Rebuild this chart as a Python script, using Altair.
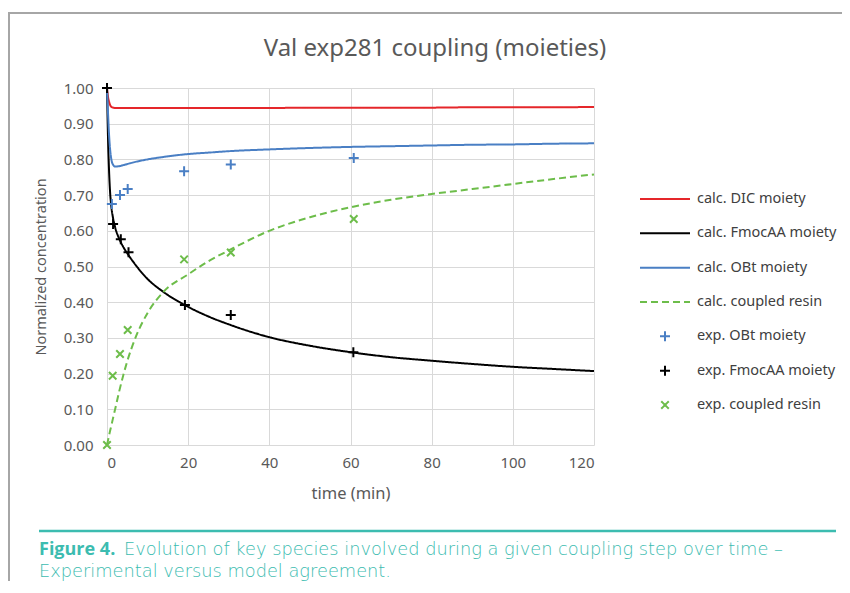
import altair as alt
import pandas as pd

# ---------------- data ----------------
t_calc = [0, 0.25, 0.5, 0.75, 1, 1.5, 2, 3, 4, 5, 7, 10, 14, 20, 25, 30, 40, 50, 60, 70, 80, 90, 100, 110, 120]
calc_dic = [1.0, 0.975, 0.962, 0.953, 0.948, 0.945, 0.944, 0.944, 0.944, 0.944, 0.944, 0.944, 0.944, 0.944, 0.944,
            0.944, 0.944, 0.945, 0.945, 0.945, 0.945, 0.946, 0.946, 0.946, 0.947]
calc_fmoc = [1.0, 0.86, 0.77, 0.71, 0.675, 0.635, 0.61, 0.578, 0.555, 0.537, 0.505, 0.465, 0.428, 0.387, 0.36,
             0.338, 0.302, 0.278, 0.26, 0.246, 0.236, 0.227, 0.219, 0.213, 0.207]
calc_obt = [1.0, 0.93, 0.87, 0.83, 0.805, 0.785, 0.78, 0.781, 0.784, 0.787, 0.793, 0.8, 0.807, 0.815, 0.819,
            0.823, 0.828, 0.832, 0.835, 0.837, 0.839, 0.841, 0.842, 0.844, 0.845]
calc_resin = [0.0, 0.013, 0.026, 0.039, 0.051, 0.076, 0.1, 0.15, 0.195, 0.235, 0.3, 0.37, 0.43, 0.478, 0.515,
              0.545, 0.600, 0.638, 0.666, 0.687, 0.703, 0.717, 0.731, 0.745, 0.758]

t_exp_obt = [1.2, 3.2, 5.1, 19, 30.5, 60.8]
exp_obt = [0.675, 0.70, 0.717, 0.767, 0.786, 0.804]
t_exp_fmoc = [0, 1.5, 3.4, 5.3, 19.2, 30.5, 60.7]
exp_fmoc = [1.0, 0.619, 0.576, 0.54, 0.392, 0.364, 0.26]
t_exp_resin = [0, 1.4, 3.2, 5.1, 19, 30.5, 60.8]
exp_resin = [0.0, 0.194, 0.255, 0.322, 0.52, 0.539, 0.633]

series_names = ["calc. DIC moiety", "calc. FmocAA moiety", "calc. OBt moiety", "calc. coupled resin",
                "exp. OBt moiety", "exp. FmocAA moiety", "exp. coupled resin"]

title_text = "Val exp281 coupling (moieties)"
x_title = "time (min)"
y_title = "Normalized concentration"
x_ticks = [0, 20, 40, 60, 80, 100, 120]
y_ticks = [0.0, 0.1, 0.2, 0.3, 0.4, 0.5, 0.6, 0.7, 0.8, 0.9, 1.0]
caption_bold = "Figure 4."
caption_line1 = "Evolution of key species involved during a given coupling step over time \u2013"
caption_line2 = "Experimental versus model agreement."

# ---------------- tables ----------------
calc_rows = []
for name, vals in zip(series_names[:4], [calc_dic, calc_fmoc, calc_obt, calc_resin]):
    for t, v in zip(t_calc, vals):
        calc_rows.append({"t": t, "v": v, "series": name})
calc_df = pd.DataFrame(calc_rows)

exp_rows = []
for name, ts, vals in zip(series_names[4:], [t_exp_obt, t_exp_fmoc, t_exp_resin], [exp_obt, exp_fmoc, exp_resin]):
    for t, v in zip(ts, vals):
        exp_rows.append({"t": t, "v": v, "series": name})
exp_df = pd.DataFrame(exp_rows)

legend_df = pd.DataFrame({"series": series_names})

# ---------------- styles ----------------
RED = "#E5262A"
BLUE = "#4A7FC4"
GREEN = "#6DBD4A"
BLACK = "#000000"
GRAY = "#595959"
TEAL = "#3CBCB0"

colors = [RED, BLACK, BLUE, GREEN, BLUE, BLACK, GREEN]
line_shape = "M-1,0H1"
plus_shape = "M-0.2,0H0.2M0,-0.2V0.2"
x_shape = "M-0.15,-0.15L0.15,0.15M-0.15,0.15L0.15,-0.15"
shapes = [line_shape, line_shape, line_shape, line_shape, plus_shape, plus_shape, x_shape]
dashes = [[1, 0], [1, 0], [1, 0], [7, 4], [1, 0], [1, 0], [1, 0]]
widths = [2, 2, 2, 2.6, 1.7, 1.7, 1.7]

color_scale = alt.Scale(domain=series_names, range=colors)
dash_scale = alt.Scale(domain=series_names, range=dashes)
shape_scale = alt.Scale(domain=series_names, range=shapes)
width_scale = alt.Scale(domain=series_names, range=widths)

FONT = "Noto Sans"

x_scale = alt.Scale(domain=[0, 120], nice=False)
y_scale = alt.Scale(domain=[0, 1], nice=False)

lines = alt.Chart(calc_df).mark_line(interpolate="monotone").encode(
    x=alt.X("t:Q", scale=x_scale, axis=alt.Axis(values=x_ticks, title=x_title, grid=True)),
    y=alt.Y("v:Q", scale=y_scale,
            axis=alt.Axis(values=y_ticks, format=".2f", title=y_title, grid=True, labelOverlap=False)),
    color=alt.Color("series:N", scale=color_scale, legend=None),
    strokeDash=alt.StrokeDash("series:N", scale=dash_scale, legend=None),
    strokeWidth=alt.StrokeWidth("series:N", scale=width_scale, legend=None),
    detail="series:N",
)

points = alt.Chart(exp_df).mark_point(filled=False, size=2500, opacity=1).encode(
    x=alt.X("t:Q", scale=x_scale),
    y=alt.Y("v:Q", scale=y_scale, axis=None),
    color=alt.Color("series:N", scale=color_scale, legend=None),
    shape=alt.Shape("series:N", scale=shape_scale, legend=None),
    strokeWidth=alt.StrokeWidth("series:N", scale=width_scale, legend=None),
)

# ---- legend drawn from the series list ----
leg_y = alt.Y("series:N", scale=alt.Scale(type="point", domain=series_names, range=[111, 317], padding=0),
              axis=None)
leg_symbols = alt.Chart(legend_df).mark_point(filled=False, size=2500, opacity=1).encode(
    x=alt.value(558),
    y=leg_y,
    color=alt.Color("series:N", scale=color_scale, legend=None),
    shape=alt.Shape("series:N", scale=shape_scale, legend=None),
    strokeDash=alt.StrokeDash("series:N", scale=dash_scale, legend=None),
    strokeWidth=alt.value(2),
)
leg_labels = alt.Chart(legend_df).mark_text(align="left", baseline="middle", font=FONT, fontSize=14.5,
                                            color="#404040").encode(
    x=alt.value(590),
    y=leg_y,
    text="series:N",
)

one = alt.Data(values=[{}])

title_mark = alt.Chart(one).mark_text(align="center", baseline="alphabetic", font=FONT, fontSize=24,
                                      color=GRAY).encode(
    x=alt.value(328), y=alt.value(-32), text=alt.value(title_text))

frame_top = alt.Chart(one).mark_rule(color="#A6A6A6", strokeWidth=2).encode(
    x=alt.value(-99), x2=alt.value(760), y=alt.value(-75))
frame_left = alt.Chart(one).mark_rule(color="#A6A6A6", strokeWidth=2).encode(
    x=alt.value(-98), y=alt.value(-76), y2=alt.value(520))
teal_rule = alt.Chart(one).mark_rule(color=TEAL, strokeWidth=2.5).encode(
    x=alt.value(-68), x2=alt.value(729), y=alt.value(443))

cap_bold = alt.Chart(one).mark_text(align="left", baseline="alphabetic", font="Open Sans", fontSize=18,
                                    fontWeight="bold", color=TEAL).encode(
    x=alt.value(-68), y=alt.value(467), text=alt.value(caption_bold))
cap_1 = alt.Chart(one).mark_text(align="left", baseline="alphabetic", font="DejaVu Sans", fontSize=17.8,
                                 fontWeight=200, color=TEAL).encode(
    x=alt.value(17), y=alt.value(467), text=alt.value(caption_line1))
cap_2 = alt.Chart(one).mark_text(align="left", baseline="alphabetic", font="DejaVu Sans", fontSize=17.8,
                                 fontWeight=200, color=TEAL).encode(
    x=alt.value(-68), y=alt.value(489), text=alt.value(caption_line2))

chart = alt.layer(
    lines, points, leg_symbols, leg_labels, title_mark, frame_top, frame_left, teal_rule, cap_bold, cap_1, cap_2
).resolve_scale(y="independent").properties(
    width=487,
    height=357,
    autosize="none",
    padding={"left": 99, "top": 80, "right": 248, "bottom": 136},
).configure_view(stroke="transparent").configure_axis(
    gridColor="#D9D9D9", gridWidth=1, domain=False, ticks=False,
    labelFont=FONT, labelFontSize=15, labelColor=GRAY,
    titleFont=FONT, titleColor=GRAY, titleFontWeight="normal",
).configure_axisY(labelPadding=14, titlePadding=15, titleFontSize=14.5).configure_axisX(
    labelPadding=10, titlePadding=15, titleFontSize=16.5)

chart.save("out.html", embed_options={"renderer": "svg", "actions": False})
